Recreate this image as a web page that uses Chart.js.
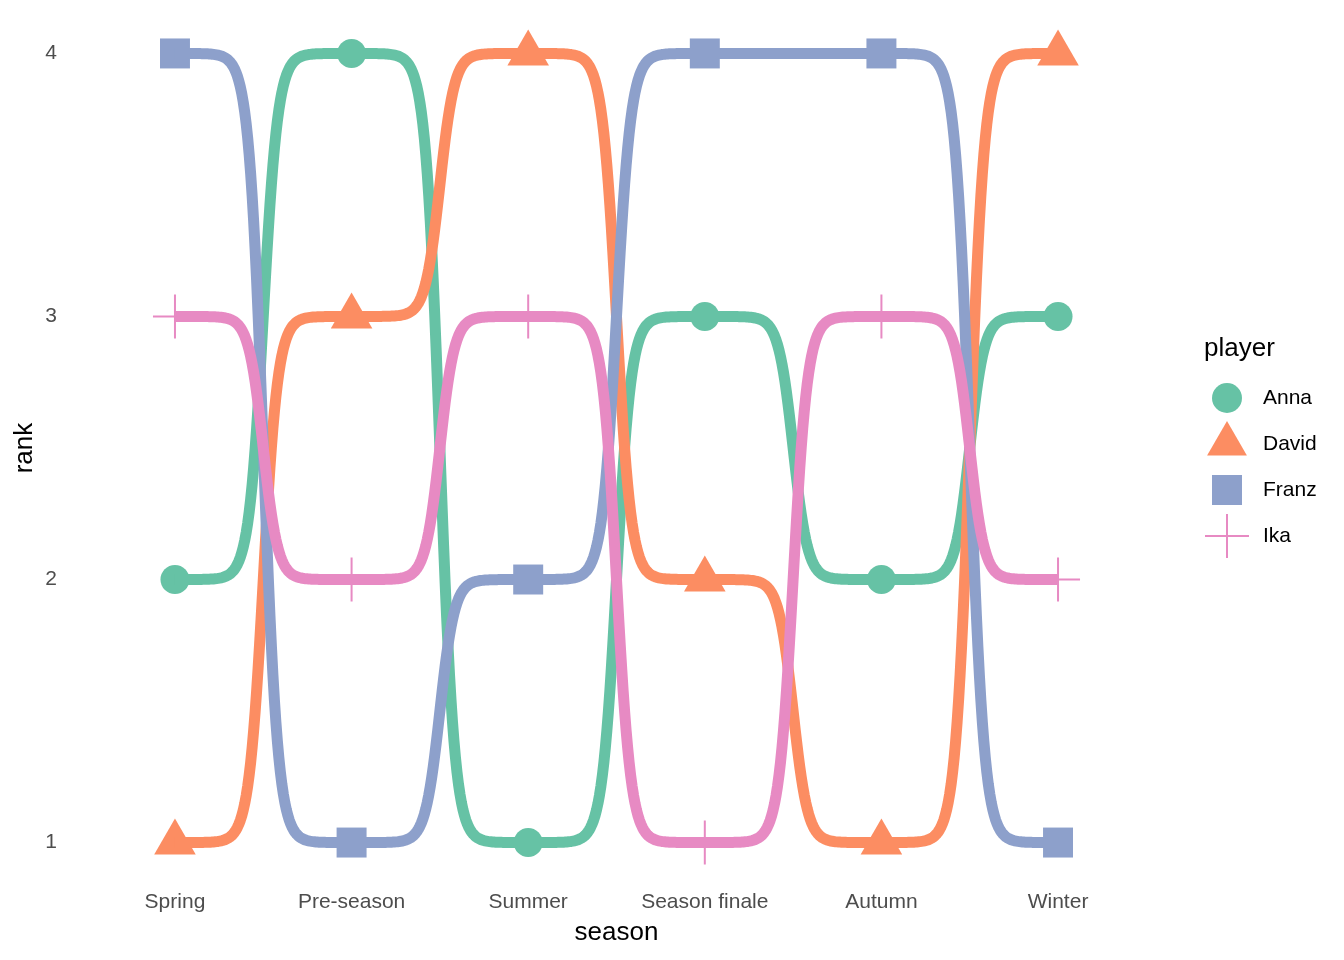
<!DOCTYPE html>
<html><head><meta charset="utf-8">
<script src="https://cdn.jsdelivr.net/npm/chart.js@4/dist/chart.umd.min.js"></script>
<style>html,body{margin:0;padding:0;background:#fff}canvas{display:block}</style>
</head><body>
<canvas id="c" width="1344" height="960"></canvas>
<script>
const seasons = ["Spring", "Pre-season", "Summer", "Season finale", "Autumn", "Winter"];
const players = ["Anna", "David", "Franz", "Ika"];
const annaRank  = [2, 4, 1, 3, 2, 3];
const davidRank = [1, 3, 4, 2, 1, 4];
const franzRank = [4, 1, 2, 4, 4, 1];
const ikaRank   = [3, 2, 3, 1, 3, 2];
const rankTicks = [1, 2, 3, 4];
const colors = ["#66C2A5", "#FC8D62", "#8DA0CB", "#E78AC3"];
const shapes = ["circle", "triangle", "rect", "cross"];
const radii = [14.5, 24, 21.2, 22];

const FONT = "'Liberation Sans', Arial, Helvetica, sans-serif";
const allRanks = [annaRank, davidRank, franzRank, ikaRank];

function toPoints(arr) { return arr.map((r, i) => ({ x: i, y: r })); }

const datasets = players.map((p, k) => ({
  label: p,
  data: toPoints(allRanks[k]),
  showLine: false,
  pointStyle: shapes[k],
  pointRadius: radii[k],
  pointHoverRadius: radii[k],
  backgroundColor: colors[k],
  borderColor: colors[k],
  pointBorderWidth: k === 3 ? 2 : 0,
  order: 3 - k
}));

// Draws ggbump-style sigmoid curves between consecutive points, using the chart scales
const bumpPlugin = {
  id: 'bump',
  afterDatasetsDraw(chart) {
    const ctx = chart.ctx;
    const xs = chart.scales.x, ys = chart.scales.y;
    const smooth = 12, n = 120;
    ctx.save();
    chart.data.datasets.forEach((ds, k) => {
      const pts = ds.data;
      ctx.beginPath();
      for (let s = 0; s < pts.length - 1; s++) {
        const a = pts[s], b = pts[s + 1];
        for (let j = 0; j < n; j++) {
          const t = -smooth + (2 * smooth) * j / (n - 1);
          const f = (t + smooth) / (2 * smooth);
          const g = Math.exp(t) / (Math.exp(t) + 1);
          const px = xs.getPixelForValue(a.x + f * (b.x - a.x));
          const py = ys.getPixelForValue(a.y + g * (b.y - a.y));
          if (s === 0 && j === 0) ctx.moveTo(px, py); else ctx.lineTo(px, py);
        }
      }
      ctx.lineWidth = 11;
      ctx.lineJoin = 'round';
      ctx.lineCap = 'butt';
      ctx.strokeStyle = colors[k];
      ctx.stroke();
    });
    ctx.restore();
  }
};

function drawMarker(ctx, shape, x, y, r, color) {
  ctx.save();
  ctx.fillStyle = color; ctx.strokeStyle = color;
  ctx.beginPath();
  if (shape === 'circle') {
    ctx.arc(x, y, r, 0, Math.PI * 2); ctx.fill();
  } else if (shape === 'triangle') {
    for (let i = 0; i < 3; i++) {
      const a = i * 2 * Math.PI / 3;
      const px = x + Math.sin(a) * r, py = y - Math.cos(a) * r;
      if (i === 0) ctx.moveTo(px, py); else ctx.lineTo(px, py);
    }
    ctx.closePath(); ctx.fill();
  } else if (shape === 'rect') {
    const s = r * Math.SQRT1_2;
    ctx.rect(x - s, y - s, 2 * s, 2 * s); ctx.fill();
  } else {
    ctx.lineWidth = 2;
    ctx.moveTo(x - r, y); ctx.lineTo(x + r, y);
    ctx.moveTo(x, y - r); ctx.lineTo(x, y + r);
    ctx.stroke();
  }
  ctx.restore();
}

const legendPlugin = {
  id: 'ggLegend',
  afterDraw(chart) {
    const ctx = chart.ctx;
    ctx.save();
    ctx.fillStyle = '#000';
    ctx.textBaseline = 'middle';
    ctx.textAlign = 'left';
    ctx.font = `26px ${FONT}`;
    ctx.fillText('player', 1204, 349);
    ctx.font = `21px ${FONT}`;
    const legendR = [15, 23, 21.2, 22];
    players.forEach((p, k) => {
      const y = 398 + k * 46;
      drawMarker(ctx, shapes[k], 1227, y, legendR[k], colors[k]);
      ctx.fillStyle = '#000';
      ctx.fillText(p, 1263, y);
    });
    ctx.restore();
  }
};

new Chart(document.getElementById('c'), {
  type: 'scatter',
  data: { datasets },
  options: {
    responsive: false,
    animation: false,
    events: [],
    layout: { autoPadding: false, padding: { top: 14, right: 180, left: 0, bottom: 0 } },
    plugins: { legend: { display: false }, tooltip: { enabled: false } },
    scales: {
      x: {
        type: 'linear', min: -0.6, max: 5.6,
        afterBuildTicks: (s) => { s.ticks = seasons.map((_, i) => ({ value: i })); },
        afterFit: (s) => { s.height = 78; s.paddingLeft = 0; s.paddingRight = 0; },
        ticks: {
          callback: (v) => seasons[v],
          font: { family: FONT, size: 21 }, color: '#4D4D4D', padding: 8,
          maxRotation: 0, autoSkip: false
        },
        grid: { display: false, drawTicks: false },
        border: { display: false },
        title: { display: true, text: 'season', color: '#000',
                 font: { family: FONT, size: 26, lineHeight: 1.2 }, padding: { top: 0, bottom: 12 } }
      },
      y: {
        type: 'linear', min: 0.85, max: 4.15,
        afterBuildTicks: (s) => { s.ticks = rankTicks.map(v => ({ value: v })); },
        afterFit: (s) => { s.width = 69; s.paddingTop = 0; s.paddingBottom = 0; },
        ticks: { font: { family: FONT, size: 21, lineHeight: 0.1 }, color: '#4D4D4D', padding: 12 },
        grid: { display: false, drawTicks: false },
        border: { display: false },
        title: { display: true, text: 'rank', color: '#000',
                 font: { family: FONT, size: 26, lineHeight: 1.2 }, padding: { top: 9, bottom: 0 } }
      }
    }
  },
  plugins: [bumpPlugin, legendPlugin]
});
</script>
</body></html>
